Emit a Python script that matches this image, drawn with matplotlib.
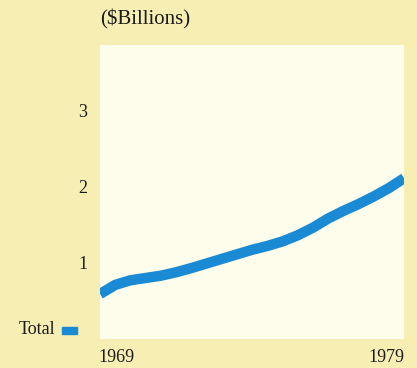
import matplotlib
matplotlib.use("Agg")
import matplotlib.pyplot as plt
from matplotlib.patches import Rectangle

# data (half-year readings too, so the curve stays smooth)
years = [1969, 1969.5, 1970, 1970.5, 1971, 1971.5, 1972, 1972.5, 1973, 1973.5,
         1974, 1974.5, 1975, 1975.5, 1976, 1976.5, 1977, 1977.5, 1978, 1978.5,
         1979]
total = [0.59, 0.71, 0.77, 0.80, 0.83, 0.875, 0.93, 0.99, 1.05, 1.11,
         1.17, 1.22, 1.28, 1.36, 1.46, 1.58, 1.68, 1.77, 1.87, 1.98,
         2.11]
yticks = [1, 2, 3]
xlabels = ["1969", "1979"]

bg = "#f7eeb3"
plot_bg = "#fefdeb"
blue = "#1a8ad4"
ink = "#1c1c1c"
serif = ["Liberation Serif", "DejaVu Serif"]

fig = plt.figure(figsize=(4.17, 3.68), dpi=100, facecolor=bg)
ax = fig.add_axes([0.240, 0.079, 0.729, 0.799])
ax.set_facecolor(plot_bg)

ax.plot(years, total, color=blue, lw=7.5, solid_capstyle="butt",
        solid_joinstyle="round")

ax.set_xlim(1969, 1979)
ax.set_ylim(0, 3.86)
for s in ax.spines.values():
    s.set_visible(False)

ax.set_yticks(yticks)
ax.set_yticklabels([str(t) for t in yticks], fontfamily=serif, fontsize=13,
                   color=ink)
ax.tick_params(axis="y", length=0, pad=9)
ax.set_xticks([])

# year labels under the ends of the axis
ax.text(-0.005, -0.035, xlabels[0], transform=ax.transAxes, ha="left",
        va="top", fontfamily=serif, fontsize=13, color=ink)
ax.text(1, -0.035, xlabels[1], transform=ax.transAxes, ha="right", va="top",
        fontfamily=serif, fontsize=13, color=ink)

# units title
fig.text(100 / 417, 1 - 19 / 368, "($Billions)", ha="left", va="center",
         fontfamily=serif, fontsize=15, color=ink)

# legend
fig.text(55 / 417, 1 - 330 / 368, "Total", ha="right", va="center",
         fontfamily=serif, fontsize=13, color=ink)
fig.patches.append(Rectangle((62 / 417, 1 - 334 / 368), 15 / 417, 7 / 368,
                             transform=fig.transFigure, color=blue))

fig.savefig("out.png", dpi=100, facecolor=bg)
